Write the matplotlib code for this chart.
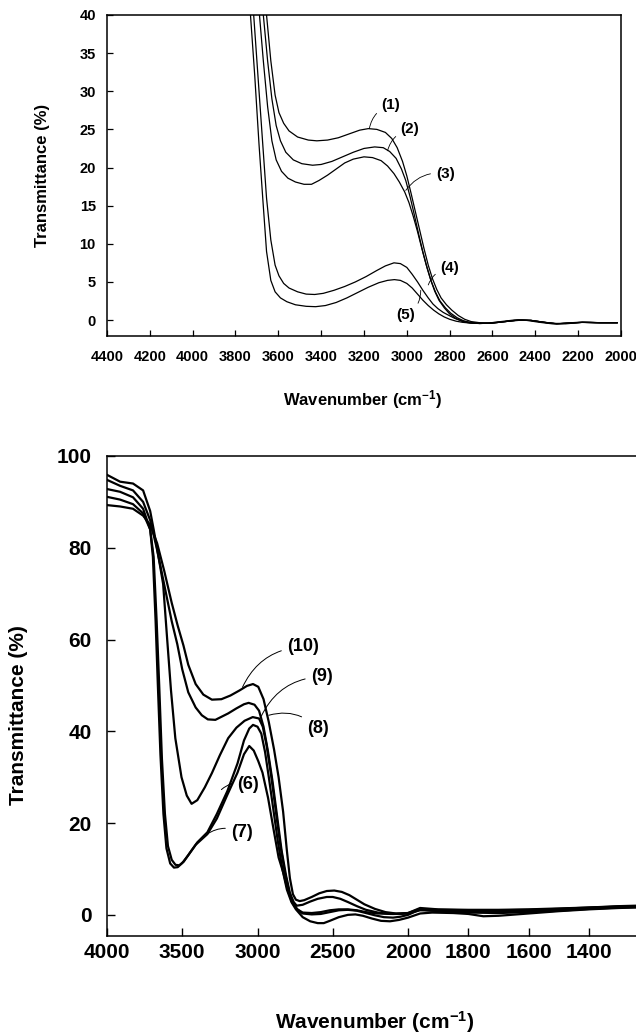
import numpy as np
import matplotlib
matplotlib.use("Agg")
import matplotlib.pyplot as plt

plt.rcParams['font.family'] = ['Liberation Sans', 'DejaVu Sans']
plt.rcParams['font.weight'] = 'bold'
plt.rcParams['mathtext.fontset'] = 'custom'
plt.rcParams['mathtext.rm'] = 'Liberation Sans:bold'
plt.rcParams['mathtext.bf'] = 'Liberation Sans:bold'
plt.rcParams['mathtext.default'] = 'bf'

narrow = ['Liberation Sans Narrow', 'Liberation Sans']

# ---- top panel: spectra (1)-(5), 4400-2000 cm-1 ----
x1 = [3675, 3655, 3635, 3615, 3597, 3575, 3550, 3510, 3460, 3420, 3370, 3320, 3270, 3220, 3180, 3140, 3100,
      3070, 3045, 3020, 3000, 2980, 2960, 2940, 2920, 2900, 2880, 2860, 2840, 2815, 2790, 2760, 2730, 2700,
      2660, 2620, 2580, 2540, 2500, 2460, 2420, 2380, 2340, 2300, 2260, 2220, 2180, 2140, 2100, 2060, 2018]
y1 = [45, 40, 34, 29.5, 27.2, 25.8, 24.8, 24.0, 23.6, 23.5, 23.6, 23.9, 24.4, 24.9, 25.1, 25.0, 24.6,
      23.8, 22.6, 20.8, 18.9, 16.6, 14.2, 11.8, 9.4, 7.2, 5.4, 4.0, 2.9, 2.0, 1.3, 0.6, 0.1, -0.2,
      -0.35, -0.4, -0.3, -0.2, -0.1, 0.0, -0.05, -0.2, -0.35, -0.45, -0.5, -0.4, -0.3, -0.3, -0.35, -0.35, -0.35]

x2 = [3690, 3670, 3650, 3630, 3610, 3590, 3565, 3530, 3490, 3440, 3400, 3350, 3300, 3250, 3200, 3150, 3110,
      3080, 3050, 3025, 3005, 2985, 2965, 2945, 2925, 2905, 2885, 2865, 2845, 2820, 2795, 2765, 2735, 2700,
      2660, 2600, 2540, 2480, 2420, 2360, 2300, 2240, 2180, 2100, 2018]
y2 = [45, 40, 34, 29, 25.5, 23.5, 22.0, 21.0, 20.5, 20.3, 20.4, 20.8, 21.4, 22.0, 22.5, 22.7, 22.6,
      22.1, 21.2, 19.8, 18.3, 16.2, 13.8, 11.3, 8.9, 6.8, 5.0, 3.6, 2.5, 1.6, 0.9, 0.3, -0.1, -0.35,
      -0.45, -0.4, -0.2, 0.0, -0.05, -0.3, -0.5, -0.4, -0.3, -0.35, -0.35]

x3 = [3705, 3688, 3670, 3650, 3630, 3610, 3585, 3555, 3520, 3480, 3445, 3410, 3370, 3330, 3290, 3250, 3200,
      3160, 3120, 3090, 3060, 3035, 3010, 2990, 2970, 2950, 2930, 2910, 2890, 2870, 2850, 2825, 2800, 2770,
      2740, 2705, 2660, 2600, 2540, 2480, 2420, 2360, 2300, 2240, 2180, 2100, 2018]
y3 = [45, 40, 34, 28, 23.5, 21.0, 19.5, 18.6, 18.1, 17.8, 17.8, 18.3, 19.0, 19.8, 20.6, 21.1, 21.4,
      21.3, 20.9, 20.2, 19.2, 18.1, 16.8, 15.4, 13.6, 11.6, 9.4, 7.3, 5.4, 3.8, 2.6, 1.6, 0.8, 0.2,
      -0.2, -0.4, -0.45, -0.4, -0.2, 0.0, -0.05, -0.3, -0.5, -0.4, -0.3, -0.35, -0.35]

x4 = [3735, 3715, 3695, 3675, 3655, 3635, 3615, 3597, 3575, 3550, 3510, 3470, 3430, 3390, 3340, 3290, 3240,
      3190, 3140, 3100, 3060, 3030, 3000, 2975, 2950, 2925, 2900, 2878, 2855, 2830, 2803, 2775, 2745, 2710,
      2670, 2620, 2560, 2500, 2440, 2380, 2320, 2260, 2200, 2120, 2018]
y4 = [45, 40, 32, 24, 16, 10.5, 7.2, 5.8, 4.8, 4.2, 3.7, 3.4, 3.35, 3.5, 3.9, 4.4, 5.0,
      5.7, 6.5, 7.1, 7.5, 7.4, 6.9, 6.0, 5.0, 3.9, 2.9, 2.1, 1.5, 1.0, 0.6, 0.2, -0.1, -0.3,
      -0.4, -0.4, -0.2, 0.0, -0.05, -0.3, -0.5, -0.4, -0.3, -0.35, -0.35]

x5 = [3750, 3730, 3710, 3690, 3672, 3655, 3635, 3615, 3590, 3560, 3520, 3470, 3426, 3380, 3330, 3280, 3230,
      3180, 3130, 3090, 3058, 3030, 3000, 2975, 2950, 2925, 2900, 2875, 2850, 2825, 2800, 2770, 2740, 2700,
      2660, 2600, 2540, 2480, 2420, 2360, 2300, 2240, 2180, 2100, 2018]
y5 = [45, 40, 32, 23, 15.7, 9.0, 5.2, 3.7, 2.9, 2.4, 2.0, 1.8, 1.75, 1.9, 2.3, 2.9, 3.6,
      4.3, 4.9, 5.2, 5.3, 5.2, 4.8, 4.2, 3.4, 2.6, 1.9, 1.3, 0.8, 0.4, 0.1, -0.15, -0.3, -0.4,
      -0.45, -0.4, -0.2, 0.0, -0.05, -0.3, -0.5, -0.4, -0.3, -0.35, -0.35]

top_curves = [(x1, y1), (x2, y2), (x3, y3), (x4, y4), (x5, y5)]
# label text, label position, point on curve
top_labels = [("(1)", (3075, 28.2), (3175, 25.1)),
              ("(2)", (2985, 25.0), (3090, 22.2)),
              ("(3)", (2820, 19.2), (3005, 17.0)),
              ("(4)", (2800, 6.8), (2900, 4.6)),
              ("(5)", (3005, 0.6), (2935, 3.9))]

# ---- bottom panel: spectra (6)-(10), 4000-1250 cm-1 ----
x6 = [4000, 3913, 3827, 3760, 3713, 3690, 3670, 3653, 3635, 3615, 3595, 3570, 3545, 3520, 3490, 3450, 3400,
      3333, 3270, 3200, 3133, 3090, 3055, 3030, 3000, 2975, 2950, 2925, 2895, 2865, 2835, 2805, 2775, 2745,
      2700, 2650, 2600, 2560, 2520, 2460, 2400, 2350, 2300, 2240, 2180, 2120, 2060, 2000,
      1960, 1920, 1850, 1800, 1750, 1700, 1600, 1500, 1400, 1300, 1243]
y6 = [92.8, 92.2, 91.0, 88.5, 84.0, 78.0, 64.0, 50.0, 34.0, 22.0, 15.0, 12.0, 10.9, 10.8, 11.6, 13.5, 15.8,
      18.0, 22.0, 27.0, 33.0, 38.0, 40.6, 41.4, 41.0, 39.5, 35.5, 30.0, 23.0, 16.0, 10.0, 5.5, 2.8, 1.2,
      -0.5, -1.4, -1.8, -1.8, -1.3, -0.5, 0.0, 0.1, -0.2, -0.8, -1.3, -1.4, -1.1, -0.6,
      0.3, 0.5, 0.4, 0.2, -0.3, -0.2, 0.3, 0.8, 1.2, 1.5, 1.6]

x7 = [4000, 3913, 3827, 3760, 3713, 3695, 3677, 3662, 3645, 3625, 3605, 3580, 3555, 3530, 3500, 3460, 3410,
      3333, 3270, 3200, 3133, 3090, 3055, 3025, 2995, 2967, 2930, 2890, 2860, 2827, 2800, 2770, 2740,
      2700, 2640, 2580, 2520, 2460, 2400, 2340, 2280, 2220, 2160, 2100, 2050, 2000,
      1960, 1920, 1850, 1800, 1700, 1600, 1500, 1400, 1300, 1243]
y7 = [91.1, 90.5, 89.5, 87.5, 84.0, 78.0, 64.0, 50.0, 35.0, 22.0, 14.5, 11.2, 10.3, 10.4, 11.3, 13.0, 15.3,
      17.6, 21.0, 26.2, 31.0, 35.0, 36.8, 35.8, 33.5, 31.0, 25.5, 18.0, 12.5, 9.0, 5.5, 2.8, 1.3,
      0.3, 0.1, 0.2, 0.6, 1.0, 1.1, 0.9, 0.4, -0.1, -0.5, -0.6, -0.4, 0.0,
      1.2, 0.9, 0.7, 0.5, 0.4, 0.6, 0.9, 1.3, 1.6, 1.7]

x8 = [4000, 3913, 3827, 3760, 3713, 3690, 3660, 3627, 3600, 3575, 3546, 3505, 3470, 3438, 3400, 3350, 3303,
      3250, 3195, 3140, 3086, 3032, 2990, 2965, 2940, 2910, 2880, 2850, 2820, 2790, 2765, 2735,
      2700, 2640, 2580, 2520, 2460, 2400, 2340, 2280, 2200, 2100, 2000,
      1960, 1900, 1800, 1700, 1600, 1500, 1400, 1300, 1243]
y8 = [95.9, 94.4, 94.0, 92.5, 88.0, 84.0, 78.5, 72.1, 60.0, 49.0, 38.5, 30.0, 26.0, 24.2, 25.0, 27.8, 30.9,
      34.8, 38.5, 40.8, 42.3, 43.1, 42.8, 41.0, 37.0, 30.5, 23.0, 15.5, 9.5, 5.0, 2.5, 1.2,
      0.5, 0.4, 0.6, 1.0, 1.2, 1.2, 1.0, 0.6, 0.3, 0.2, 0.3,
      1.0, 0.9, 0.8, 0.7, 0.9, 1.2, 1.5, 1.8, 1.9]

x9 = [4000, 3913, 3827, 3760, 3713, 3670, 3620, 3570, 3533, 3500, 3460, 3411, 3370, 3330, 3280, 3195, 3140,
      3090, 3059, 3020, 2990, 2960, 2930, 2900, 2870, 2840, 2810, 2785, 2760, 2740,
      2700, 2650, 2600, 2540, 2500, 2450, 2400, 2340, 2280, 2200, 2120, 2050, 2000,
      1960, 1900, 1800, 1700, 1600, 1500, 1400, 1300, 1243]
y9 = [94.8, 93.5, 92.5, 90.0, 86.0, 80.0, 72.0, 64.0, 59.0, 53.5, 48.5, 45.2, 43.5, 42.6, 42.5, 43.9, 45.0,
      45.9, 46.2, 45.8, 44.5, 41.0, 35.5, 29.0, 21.5, 14.0, 8.5, 4.8, 2.8, 2.0,
      2.2, 2.9, 3.5, 3.9, 3.9, 3.5, 2.8, 1.9, 1.1, 0.5, 0.2, 0.2, 0.4,
      1.3, 1.1, 1.0, 1.0, 1.1, 1.3, 1.6, 1.8, 1.9]

x10 = [4000, 3913, 3827, 3760, 3713, 3667, 3620, 3570, 3530, 3492, 3460, 3411, 3360, 3303, 3240, 3180, 3120,
       3070, 3030, 2995, 2960, 2925, 2890, 2860, 2830, 2805, 2785, 2765, 2745, 2720,
       2690, 2640, 2590, 2540, 2490, 2440, 2390, 2340, 2290, 2220, 2150, 2080, 2000,
       1960, 1900, 1800, 1700, 1600, 1500, 1400, 1300, 1243]
y10 = [89.3, 89.0, 88.5, 87.0, 85.0, 81.0, 75.0, 68.0, 63.0, 58.7, 54.5, 50.3, 48.0, 46.9, 47.0, 47.8, 48.9,
       49.9, 50.3, 49.7, 47.0, 42.0, 36.0, 30.0, 22.5, 14.0, 8.0, 4.5, 3.3, 3.0,
       3.2, 3.9, 4.7, 5.2, 5.3, 5.0, 4.3, 3.3, 2.3, 1.3, 0.6, 0.3, 0.4,
       1.5, 1.2, 1.1, 1.1, 1.2, 1.4, 1.6, 1.9, 2.0]

bottom_curves = [(x6, y6), (x7, y7), (x8, y8), (x9, y9), (x10, y10)]
bottom_labels = [("(10)", (2700, 58.4), (3100, 49.6)),
                 ("(9)", (2575, 51.9), (2975, 43.3)),
                 ("(8)", (2600, 40.6), (2925, 43.5)),
                 ("(6)", (3060, 28.4), (3240, 27.3)),
                 ("(7)", (3105, 17.9), (3340, 17.5))]

top_xticks = list(range(4400, 1999, -200))
bottom_xticks = [4000, 3500, 3000, 2500, 2000, 1800, 1600, 1400]


def fwd(x):
    x = np.asarray(x, dtype=float)
    return np.where(x >= 2000, x, 2 * x - 2000)


def inv(u):
    u = np.asarray(u, dtype=float)
    return np.where(u >= 2000, u, (u + 2000) / 2)


fig = plt.figure(figsize=(6.36, 10.34), dpi=100)

# top chart
ax1 = fig.add_axes([0.1682, 0.6750, 0.8082, 0.3105])
for xs, ys in top_curves:
    ax1.plot(xs, ys, color='black', lw=0.9)
ax1.set_xlim(4400, 2000)
ax1.set_ylim(-2.1, 40)
ax1.set_xticks(top_xticks)
ax1.set_yticks(range(0, 41, 5))
ax1.tick_params(direction='in', length=4, width=0.9)
ax1.tick_params(axis='x', pad=10)
ax1.tick_params(axis='y', pad=8)
for lab in ax1.get_xticklabels() + ax1.get_yticklabels():
    lab.set_family(narrow)
    lab.set_fontsize(10.5)
    lab.set_fontweight('bold')
for sp in ax1.spines.values():
    sp.set_linewidth(1.1)
ax1.set_ylabel("Transmittance (%)", fontsize=12, fontweight='bold')
ax1.yaxis.set_label_coords(-0.111, 0.5)
ax1.set_xlabel(r"Wavenumber (cm$^{-1}$)", fontsize=12, fontweight='bold')
ax1.xaxis.set_label_coords(0.498, -0.163)
for txt, pos, pt in top_labels:
    ax1.annotate(txt, xy=pt, xytext=pos, fontsize=11, fontweight='bold', family=narrow,
                 ha='center', va='center',
                 arrowprops=dict(arrowstyle='-', lw=0.6, color='black', shrinkA=2, shrinkB=0,
                                 connectionstyle='arc3,rad=0.3'))

# bottom chart
ax2 = fig.add_axes([0.1682, 0.0948, 0.8318, 0.4642])
ax2.set_xscale('function', functions=(fwd, inv))
for xs, ys in bottom_curves:
    ax2.plot(xs, ys, color='black', lw=1.6)
ax2.set_xlim(4000, 1243)
ax2.set_ylim(-4.6, 100)
ax2.set_xticks(bottom_xticks)
ax2.set_xticklabels([str(t) for t in bottom_xticks])
ax2.set_yticks([0, 20, 40, 60, 80, 100])
ax2.tick_params(direction='in', length=6, width=1.0, labelsize=15, pad=5)
ax2.tick_params(axis='y', pad=11)
ax2.spines['right'].set_visible(False)
for sp in ax2.spines.values():
    sp.set_linewidth(1.1)
ax2.set_ylabel("Transmittance (%)", fontsize=15, fontweight='bold')
ax2.yaxis.set_label_coords(-0.149, 0.46)
ax2.set_xlabel(r"Wavenumber (cm$^{-1}$)", fontsize=15, fontweight='bold')
ax2.xaxis.set_label_coords(0.507, -0.153)
for txt, pos, pt in bottom_labels:
    ax2.annotate(txt, xy=pt, xytext=pos, fontsize=13, fontweight='bold',
                 ha='center', va='center',
                 arrowprops=dict(arrowstyle='-', lw=0.7, color='black', shrinkA=2, shrinkB=0,
                                 connectionstyle='arc3,rad=0.3'))

fig.savefig('out.png', dpi=100)
